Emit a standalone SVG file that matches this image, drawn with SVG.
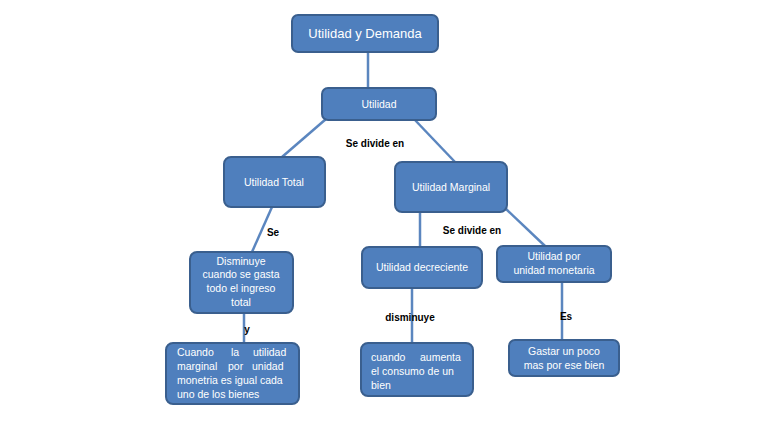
<svg xmlns="http://www.w3.org/2000/svg" width="768" height="433" viewBox="0 0 768 433">
<style>
.n{fill:#4f7fbd;stroke:#3a5f8e;stroke-width:2}
.t{fill:#fff;font-family:"Liberation Sans",Arial,sans-serif;font-size:10.5px;text-anchor:middle}
.l{fill:#000;font-family:"Liberation Sans",Arial,sans-serif;font-size:10px;font-weight:bold;text-anchor:middle}
#c line{stroke:#5b86bf;stroke-width:2.5}
</style>
<rect width="768" height="433" fill="#fff"/>
<g id="c">
<line x1="368" y1="52" x2="368" y2="88"/>
<line x1="326" y1="119" x2="282" y2="157"/>
<line x1="414" y1="119" x2="455" y2="162"/>
<line x1="272" y1="207" x2="252" y2="252"/>
<line x1="244" y1="313" x2="244" y2="343"/>
<line x1="420" y1="212" x2="420" y2="247"/>
<line x1="505" y1="208" x2="545" y2="246"/>
<line x1="412" y1="288" x2="412" y2="343"/>
<line x1="562" y1="282" x2="562" y2="340"/>
</g>
<g id="labels">
<text class="l" x="375" y="147">Se divide en</text>
<text class="l" x="273" y="236">Se</text>
<text class="l" x="247" y="333">y</text>
<text class="l" x="472" y="234">Se divide en</text>
<text class="l" x="410" y="321">disminuye</text>
<text class="l" x="566" y="320">Es</text>
</g>
<g id="n1"><rect class="n" x="292" y="15" width="146" height="37" rx="6"/><text class="t" x="365" y="38" style="font-size:13px">Utilidad y Demanda</text></g>
<g id="n2"><rect class="n" x="322" y="88" width="114" height="32" rx="6"/><text class="t" x="379" y="108">Utilidad</text></g>
<g id="n3"><rect class="n" x="224" y="157" width="101" height="50" rx="7"/><text class="t" x="274" y="186">Utilidad Total</text></g>
<g id="n4"><rect class="n" x="395" y="162" width="112" height="50" rx="7"/><text class="t" x="451" y="191">Utilidad Marginal</text></g>
<g id="n5"><rect class="n" x="190" y="252" width="103" height="61" rx="7"/><text class="t" x="241" y="265">Disminuye</text><text class="t" x="241" y="278">cuando se gasta</text><text class="t" x="241" y="292">todo el ingreso</text><text class="t" x="241" y="306">total</text></g>
<g id="n6"><rect class="n" x="362" y="247" width="120" height="41" rx="7"/><text class="t" x="422" y="271">Utilidad decreciente</text></g>
<g id="n7"><rect class="n" x="497" y="246" width="114" height="36" rx="6"/><text class="t" x="554" y="260">Utilidad  por</text><text class="t" x="554" y="274">unidad monetaria</text></g>
<g id="n8"><rect class="n" x="166" y="343" width="133" height="61" rx="7"/>
<text class="t" style="text-anchor:start" x="177" y="356">Cuando<tspan x="231">la</tspan><tspan x="253">utilidad</tspan></text>
<text class="t" style="text-anchor:start" x="177" y="370">marginal<tspan x="228">por</tspan><tspan x="252">unidad</tspan></text>
<text class="t" style="text-anchor:start" x="177" y="384">monetria es igual cada</text>
<text class="t" style="text-anchor:start" x="177" y="398">uno de los bienes</text></g>
<g id="n9"><rect class="n" x="361" y="343" width="112" height="53" rx="7"/>
<text class="t" style="text-anchor:start" x="371" y="361">cuando<tspan x="420">aumenta</tspan></text>
<text class="t" style="text-anchor:start" x="371" y="375">el consumo de un</text>
<text class="t" style="text-anchor:start" x="371" y="389">bien</text></g>
<g id="n10"><rect class="n" x="509" y="340" width="110" height="36" rx="6"/><text class="t" x="564" y="355">Gastar un poco</text><text class="t" x="564" y="369">mas por ese bien</text></g>
</svg>
